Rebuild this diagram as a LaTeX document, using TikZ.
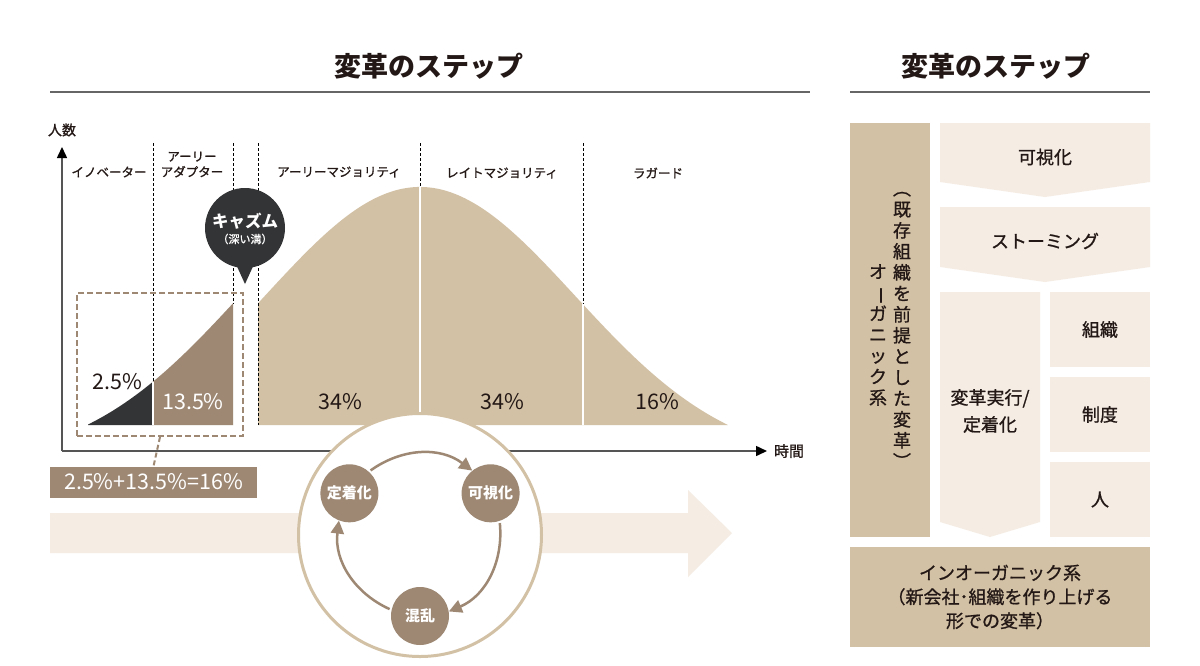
\documentclass[tikz,border=0pt]{standalone}
\usepackage{fontspec}
\setmainfont{Noto Sans CJK JP}
\newfontfamily\medfont{Noto Sans CJK JP}[FakeBold=1]
\usepackage{graphicx}
\usetikzlibrary{arrows.meta}
\definecolor{beige}{HTML}{D3C1A5}
\definecolor{taupe}{HTML}{9E8874}
\definecolor{charc}{HTML}{333436}
\definecolor{pale}{HTML}{F5EDE4}
\definecolor{ink}{HTML}{231815}
\definecolor{rulegray}{HTML}{666666}
\definecolor{axisgray}{HTML}{555555}
\begin{document}
\begin{tikzpicture}[x=1pt,y=-1pt,
 declare function={bell(\d)=425-238*(exp(-0.5*(\d/155)^2)-0.1389)/0.8611;},
 every node/.style={text=ink,inner sep=0pt},
 ttl/.style={font=\fontsize{27}{30}\selectfont\bfseries},
 titlerule/.style={draw=rulegray,line width=1.2pt},
 cat/.style={font=\medfont\fontsize{12.5}{15.5}\selectfont,align=center},
 pct/.style={font=\fontsize{21.5}{24}\selectfont},
 sepdash/.style={draw=black,line width=0.8pt,dash pattern=on 3pt off 2pt},
 sepwhite/.style={draw=white,line width=1.2pt},
 axisline/.style={draw=axisgray,line width=1.5pt,-{Triangle[length=11pt,width=10pt,color=black]}},
 cnode/.style={circle,fill=taupe,minimum size=58pt,text=white,font=\fontsize{15}{18}\selectfont\bfseries},
 cyclearrow/.style={draw=taupe,line width=2.5pt,-{Triangle[length=13pt,width=13pt]},shorten <=2pt},
 rtext/.style={font=\medfont\fontsize{18}{21}\selectfont,align=center},
 vtext/.style={font=\medfont\fontsize{18}{21}\selectfont,align=center},
]
\useasboundingbox[fill=white] (0,0) rectangle (1200,665);

% titles
\node[ttl] (t1) at (429,66) {変革のステップ};
\node[ttl] (t2) at (996,66) {変革のステップ};
\draw[titlerule] (50,92) -- (810,92);
\draw[titlerule] (850,92) -- (1150,92);

% background arrow
\fill[pale] (50,513) -- (688,513) -- (688,490) -- (732,533) -- (688,577) -- (688,553) -- (50,553) -- cycle;

% bell curve
\fill[beige] (258,425) -- plot[domain=258:728,samples=140] (\x,{bell(\x-420)}) -- cycle;
\fill[charc] (88,425) -- plot[domain=88:153,samples=40] (\x,{bell(395-\x)}) -- (153,425) -- cycle;
\fill[taupe] (153,425) -- plot[domain=153:233,samples=40] (\x,{bell(395-\x)}) -- (233,425) -- cycle;
\draw[sepwhite] (153,{bell(242)}) -- (153,425);
\draw[sepwhite] (420,187) -- (420,425);
\draw[sepwhite] (583,{bell(163)}) -- (583,425);
\draw[sepdash] (153,143) -- (153,{bell(242)});
\draw[sepdash] (233,143) -- (233,{bell(162)});
\draw[sepdash] (258,143) -- (258,425);
\draw[sepdash] (420,143) -- (420,187);
\draw[sepdash] (583,143) -- (583,{bell(163)});

% category labels
\node[cat] (c1) at (109,172) {イノベーター};
\node[cat] (c2) at (192,164.5) {アーリー\\アダプター};
\node[cat] (c3) at (339,172) {アーリーマジョリティ};
\node[cat] (c4) at (502,173) {レイトマジョリティ};
\node[cat] (c5) at (658,173) {ラガード};

% percentages
\node[pct] (p1) at (117,382) {2.5\%};
\node[pct,text=white] (p2) at (193,402) {13.5\%};
\node[pct] (p3) at (340,402) {34\%};
\node[pct] (p4) at (502,402) {34\%};
\node[pct] (p5) at (657,402) {16\%};

% axes
\coordinate (O) at (62,451);
\coordinate (ytop) at (62,147);
\coordinate (xend) at (767,451);
\draw[axisline] (O) -- (ytop);
\draw[axisline] (O) -- (xend);
\node[font=\medfont\fontsize{14}{16}\selectfont] (ylab) at (62,130) {人数};
\node[font=\medfont\fontsize{15}{17}\selectfont] (xlab) at (789,451) {時間};

% chasm bubble
\fill[charc] (235,262) -- (245,284) -- (255,262) -- cycle;
\node[circle,fill=charc,minimum size=80pt] (chasm) at (245,228) {};
\node[text=white,font=\fontsize{16.5}{18}\selectfont\bfseries] (chasmt) at (245,221) {キャズム};
\node[text=white,font=\medfont\fontsize{11}{12}\selectfont] (chasms) at (245,239) {（深い溝）};

% early market group
\node[draw=taupe,line width=2pt,dash pattern=on 6pt off 3pt,minimum width=166pt,minimum height=143pt] (grp) at (160,364.5) {};
\node[fill=taupe,minimum width=207pt,minimum height=31pt,text=white,pct] (sum) at (153.5,482) {2.5\%+13.5\%=16\%};
\draw[draw=taupe,line width=2pt,dash pattern=on 5pt off 3pt] (grp.south) -- (sum.north);

% cycle
\node[circle,draw=beige,line width=3pt,fill=white,minimum size=243pt] (cyc) at (420,535) {};
\node[cnode] (n1) at (349.4,493.3) {定着化};
\node[cnode] (n2) at (490.6,493.3) {可視化};
\node[cnode] (n3) at (420,616) {混乱};
\draw[cyclearrow] (n1.48) to[out=35.6,in=143] (n2.129);
\draw[cyclearrow] (n2.-72) to[out=-84.4,in=23] (n3.9);
\draw[cyclearrow] (n3.168) to[out=155.6,in=-97] (n1.-111);

% right panel
\fill[beige] (850,123) rectangle (930,537);
\node[vtext] (vcol1) at (902,330) {︵\\既\\存\\組\\織\\を\\前\\提\\と\\し\\た\\変\\革\\︶};
\node[vtext] (vcol2) at (878,335) {オ\\\rotatebox[origin=c]{-90}{ー}\\ガ\\ニ\\ッ\\ク\\系};

\fill[pale] (940,123) -- (1150,123) -- (1150,182) -- (1045,197) -- (940,182) -- cycle;
\node[rtext] (b1) at (1045,157) {可視化};
\fill[pale] (940,207) -- (1150,207) -- (1150,267) -- (1045,282) -- (940,267) -- cycle;
\node[rtext] (b2) at (1045,241) {ストーミング};
\fill[pale] (940,292) -- (1040,292) -- (1040,522) -- (990,537) -- (940,522) -- cycle;
\node[rtext,font=\medfont\fontsize{18}{27}\selectfont] (b3) at (990,411) {変革実行/\\定着化};
\node[fill=pale,minimum width=100pt,minimum height=75pt,rtext] (b4) at (1100,329.5) {組織};
\node[fill=pale,minimum width=100pt,minimum height=75pt,rtext] (b5) at (1100,414.5) {制度};
\node[fill=pale,minimum width=100pt,minimum height=75pt,rtext] (b6) at (1100,499.5) {人};
\node[fill=beige,minimum width=300pt,minimum height=100pt,font=\medfont\fontsize{18}{24}\selectfont,align=center] (b7) at (1000,597) {インオーガニック系\\（新会社･組織を作り上げる\\形での変革）};
\end{tikzpicture}
\end{document}
